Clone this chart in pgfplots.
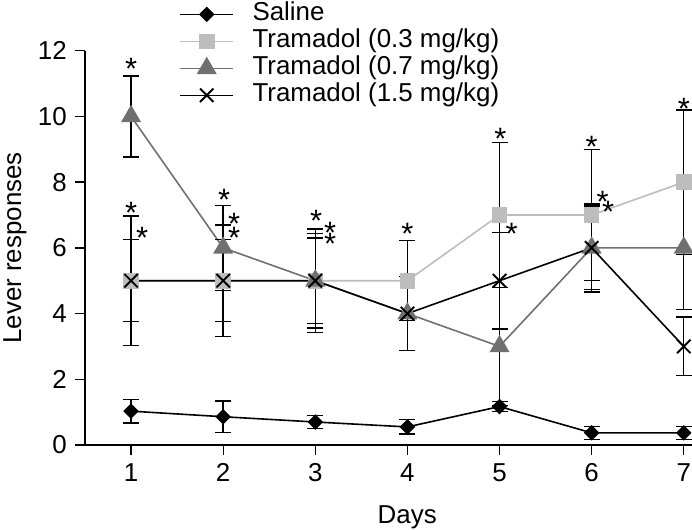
\documentclass[border=0pt]{standalone}
\usepackage{pgfplots}
\pgfplotsset{compat=1.18}
\usepackage{pgfplotstable}
\usepackage{fontspec}
\setmainfont{Liberation Sans}
\definecolor{lgray}{HTML}{BDBDBD}
\definecolor{dgray}{HTML}{707070}

\pgfplotstableread{
x y e
1 1.03 0.36
2 0.86 0.48
3 0.70 0.20
4 0.55 0.22
5 1.17 0.15
6 0.37 0.20
7 0.37 0.20
}\saline
\pgfplotstableread{
x y e
1 5 1.97
2 5 1.70
3 5 1.57
4 5 1.22
5 7 2.20
6 7 1.99
7 8 2.20
}\tlow
\pgfplotstableread{
x y e
1 10 1.23
2 6 1.29
3 5 1.44
4 4 1.13
5 3 1.80
6 6 1.34
7 6 1.87
}\tmid
\pgfplotstableread{
x y e
1 5 1.25
2 5 1.25
3 5 1.30
4 4 1.13
5 5 1.47
6 6 1.27
7 3 0.89
}\thigh

\begin{document}
\fontsize{26}{31}\selectfont
\begin{tikzpicture}[font=\fontsize{26}{31}\selectfont,
  star/.style={font=\fontsize{31}{31}\selectfont, inner sep=0pt, anchor=base, yshift=-16.5bp}]
\begin{axis}[
  scale only axis, width=608bp, height=394.3bp,
  xmin=0.5, xmax=7.1, ymin=0, ymax=12,
  axis x line*=bottom, axis y line*=left,
  axis line style={line width=1.3bp, -},
  xtick={1,...,7}, ytick={0,2,...,12},
  tick align=outside, major tick length=9.5bp,
  tick style={line width=1.3bp, black},
  /pgf/number format/assume math mode=true,
  xlabel={Days}, ylabel={Lever responses},
  xlabel style={at={(axis description cs:0.53,0)}, anchor=center, yshift=-72bp},
  ylabel style={at={(axis description cs:-0.1151,0.5)}, anchor=center},
  legend cell align=left,
  legend style={draw=none, fill=none, at={(0.155,1.127)}, anchor=north west,
    inner xsep=0pt, inner ysep=0pt,
    nodes={text height=18bp, text depth=6bp, inner sep=1.5bp},
    /tikz/every odd column/.append style={column sep=17bp}},
  legend image code/.code={\draw[mark repeat=2, mark phase=2] plot coordinates {(0bp,0bp) (26.5bp,0bp) (53bp,0bp)};},
  error bars/error bar style={black, line width=1.4bp, solid},
  error bars/error mark options={rotate=90, black, mark size=8bp, line width=1.4bp, solid},
]
\addplot[black, line width=1.6bp, mark=square*, mark size=4.7bp, mark options={rotate=45, fill=black},
  error bars/.cd, y dir=both, y explicit] table[x=x, y=y, y error=e] {\saline};
\addlegendentry{Saline}
\addplot[lgray, line width=1.6bp, mark=square*, mark size=7bp, mark options={fill=lgray},
  error bars/.cd, y dir=both, y explicit] table[x=x, y=y, y error=e] {\tlow};
\addlegendentry{Tramadol (0.3 mg/kg)}
\addplot[dgray, line width=1.6bp, mark=triangle*, mark size=10bp, mark options={fill=dgray},
  error bars/.cd, y dir=both, y explicit] table[x=x, y=y, y error=e] {\tmid};
\addlegendentry{Tramadol (0.7 mg/kg)}
\addplot[black, line width=1.6bp, mark=x, mark size=9.5bp, mark options={line width=1.9bp},
  error bars/.cd, y dir=both, y explicit] table[x=x, y=y, y error=e] {\thigh};
\addlegendentry{Tramadol (1.5 mg/kg)}

\node[star] at (axis cs:1,11.62) {*};
\node[star] at (axis cs:1,7.25) {*};
\node[star] at (axis cs:1.12,6.49) {*};
\node[star] at (axis cs:2.01,7.64) {*};
\node[star] at (axis cs:2.12,6.92) {*};
\node[star] at (axis cs:2.12,6.49) {*};
\node[star] at (axis cs:3.01,7.0) {*};
\node[star] at (axis cs:3.16,6.62) {*};
\node[star] at (axis cs:3.16,6.29) {*};
\node[star] at (axis cs:4.0,6.59) {*};
\node[star] at (axis cs:5.01,9.49) {*};
\node[star] at (axis cs:5.13,6.61) {*};
\node[star] at (axis cs:6.0,9.25) {*};
\node[star] at (axis cs:6.12,7.58) {*};
\node[star] at (axis cs:6.18,7.27) {*};
\node[star] at (axis cs:7.0,10.42) {*};
\end{axis}
\pgfresetboundingbox
\path[use as bounding box] (-85bp,-85bp) rectangle (607bp,445bp);
\end{tikzpicture}
\end{document}
